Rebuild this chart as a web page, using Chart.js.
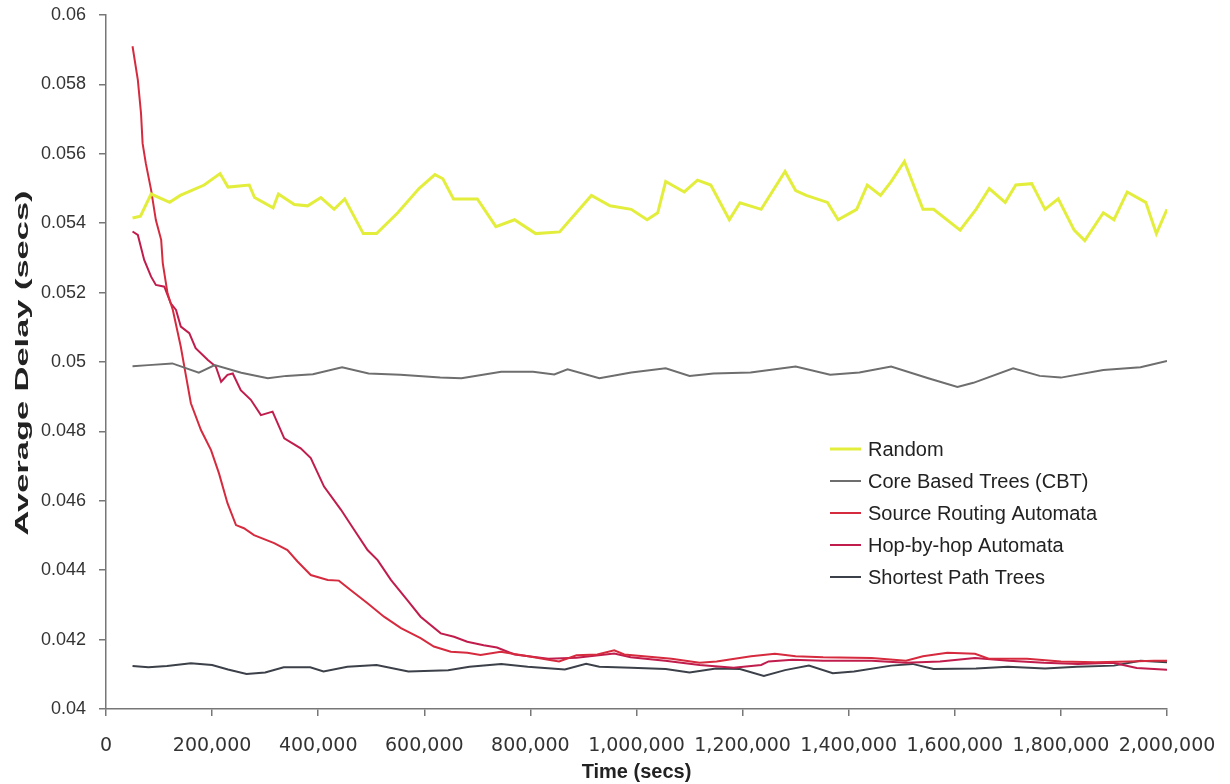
<!DOCTYPE html>
<html>
<head>
<meta charset="utf-8">
<script src="https://cdn.jsdelivr.net/npm/chart.js@4.4.1/dist/chart.umd.min.js"></script>
<style>
  html, body { margin: 0; padding: 0; background: #ffffff; }
  #wrap { width: 1230px; height: 784px; position: relative; }
</style>
</head>
<body>
<div id="wrap"><canvas id="chart" width="1230" height="784"></canvas></div>
<script>
// ---------------- DATA ----------------
const xTitle = 'Time (secs)';
const yTitle = 'Average Delay (secs)';
const xTickLabels = ['0','200,000','400,000','600,000','800,000','1,000,000','1,200,000','1,400,000','1,600,000','1,800,000','2,000,000'];
const yTickLabels = ['0.04','0.042','0.044','0.046','0.048','0.05','0.052','0.054','0.056','0.058','0.06'];

const seriesNames = ['Random', 'Core Based Trees (CBT)', 'Source Routing Automata', 'Hop-by-hop Automata', 'Shortest Path Trees'];

const randomTimes = [50000,65000,85000,120000,140000,185000,215000,230000,270000,280000,315000,325000,355000,380000,405000,430000,450000,485000,510000,550000,590000,620000,635000,655000,700000,735000,770000,810000,855000,875000,915000,950000,990000,1020000,1040000,1055000,1090000,1115000,1140000,1175000,1195000,1235000,1280000,1300000,1320000,1360000,1380000,1415000,1435000,1460000,1480000,1505000,1540000,1560000,1610000,1640000,1665000,1695000,1715000,1745000,1770000,1795000,1825000,1845000,1880000,1900000,1925000,1960000,1980000,2000000];
const randomValues = [0.05415,0.0542,0.05484,0.0546,0.0548,0.0551,0.05543,0.05504,0.0551,0.05474,0.05444,0.05484,0.05454,0.0545,0.05474,0.0544,0.0547,0.0537,0.0537,0.0543,0.0550,0.0554,0.05528,0.0547,0.0547,0.0539,0.0541,0.0537,0.05375,0.0541,0.0548,0.0545,0.0544,0.0541,0.0543,0.0552,0.0549,0.05524,0.0551,0.0541,0.05459,0.0544,0.05549,0.05494,0.0548,0.0546,0.0541,0.0544,0.0551,0.0548,0.0552,0.05578,0.0544,0.0544,0.0538,0.0544,0.0550,0.0546,0.0551,0.05514,0.0544,0.0547,0.0538,0.0535,0.0543,0.0541,0.0549,0.0546,0.0537,0.0544];

const cbtTimes = [50000,80000,125000,175000,205000,255000,305000,340000,390000,445000,495000,555000,630000,670000,745000,805000,845000,870000,930000,990000,1055000,1100000,1145000,1215000,1300000,1365000,1420000,1480000,1550000,1605000,1635000,1710000,1760000,1800000,1880000,1950000,2000000];
const cbtValues = [0.04988,0.04991,0.04996,0.04969,0.04991,0.04969,0.04953,0.0496,0.04965,0.04985,0.04967,0.04963,0.04955,0.04953,0.04972,0.04972,0.04964,0.04979,0.04953,0.0497,0.04982,0.0496,0.04967,0.0497,0.04987,0.04963,0.0497,0.04987,0.04953,0.04928,0.0494,0.04982,0.0496,0.04955,0.04977,0.04985,0.05003];

const sourceTimes = [50000,60000,66000,69000,75000,85000,94000,104000,107000,116000,126000,141000,151000,160000,179000,198000,213000,229000,245000,260000,279000,317000,342000,361000,386000,418000,439000,461000,493000,524000,556000,593000,618000,650000,681000,706000,744000,796000,834000,854000,887000,926000,958000,977000,1066000,1119000,1151000,1216000,1261000,1300000,1352000,1443000,1508000,1540000,1586000,1638000,1664000,1736000,1800000,1865000,1930000,1976000,2000000];
const sourceValues = [0.0591,0.05813,0.05717,0.0563,0.05573,0.05496,0.05409,0.05352,0.05285,0.05198,0.0515,0.05044,0.04958,0.04881,0.04804,0.04746,0.04679,0.04593,0.0453,0.04521,0.04501,0.04478,0.04458,0.04425,0.04386,0.04372,0.0437,0.04343,0.04305,0.04266,0.04233,0.04204,0.0418,0.04165,0.04162,0.04156,0.04165,0.04152,0.04142,0.04137,0.04155,0.04157,0.04169,0.04157,0.04145,0.04133,0.04137,0.04152,0.04159,0.04152,0.04149,0.04147,0.04139,0.04152,0.04162,0.04159,0.04145,0.04145,0.04137,0.04135,0.04137,0.04139,0.04139];

const hopTimes = [50000,60000,72000,85000,94000,104000,110000,122000,132000,141000,157000,169000,192000,207000,217000,229000,239000,254000,273000,292000,314000,336000,367000,386000,411000,443000,468000,493000,512000,537000,568000,593000,631000,656000,681000,712000,737000,770000,834000,887000,958000,989000,1054000,1119000,1183000,1235000,1249000,1294000,1352000,1443000,1508000,1572000,1638000,1702000,1768000,1832000,1898000,1943000,2000000];
const hopValues = [0.05376,0.05366,0.05294,0.05246,0.05222,0.05219,0.05217,0.05169,0.0515,0.05102,0.05083,0.0504,0.05006,0.04987,0.04943,0.04963,0.04967,0.04919,0.04891,0.04847,0.04857,0.0478,0.04751,0.04723,0.04641,0.04574,0.04516,0.04458,0.04429,0.04372,0.04314,0.04266,0.04218,0.04208,0.04194,0.04184,0.04177,0.04157,0.04145,0.04148,0.0416,0.04149,0.04139,0.04127,0.04119,0.04127,0.04137,0.04142,0.04139,0.04139,0.04133,0.04137,0.04147,0.04139,0.04133,0.0413,0.04133,0.04118,0.04113];

const sptTimes = [50000,80000,115000,160000,200000,230000,265000,300000,335000,385000,410000,455000,510000,570000,645000,685000,745000,795000,865000,905000,930000,990000,1055000,1100000,1150000,1195000,1240000,1280000,1325000,1370000,1410000,1480000,1520000,1560000,1640000,1700000,1770000,1830000,1900000,1950000,2000000];
const sptValues = [0.04124,0.0412,0.04124,0.04132,0.04127,0.04114,0.04101,0.04105,0.0412,0.0412,0.04108,0.04122,0.04127,0.04108,0.04112,0.04122,0.0413,0.04122,0.04114,0.0413,0.04122,0.04119,0.04115,0.04105,0.04117,0.04115,0.04095,0.04112,0.04125,0.04103,0.04108,0.04125,0.0413,0.04115,0.04117,0.04122,0.04117,0.04122,0.04125,0.04139,0.04135];

// ---------------- STYLE ----------------
const seriesColors = ['#e3ee3c', '#6e6e6e', '#d62a3e', '#c01c4c', '#3c4049'];
const seriesWidths = [3, 2, 2, 2, 2];

function pairs(ts, vs) { return ts.map((t, i) => ({ x: t, y: vs[i] })); }

const seriesData = [
  pairs(randomTimes, randomValues),
  pairs(cbtTimes, cbtValues),
  pairs(sourceTimes, sourceValues),
  pairs(hopTimes, hopValues),
  pairs(sptTimes, sptValues)
];

const PLOT = { left: 106, right: 1167, top: 15, bottom: 709 };
const W = 1230, H = 784;

function zeroPad(scale) {
  scale.paddingTop = 0; scale.paddingBottom = 0;
  scale.paddingLeft = 0; scale.paddingRight = 0;
}

const insideLegend = {
  id: 'insideLegend',
  afterDraw(chart) {
    const ctx = chart.ctx;
    ctx.save();
    ctx.font = '20px "Liberation Sans", Arial, sans-serif';
    ctx.textBaseline = 'middle';
    ctx.textAlign = 'left';
    chart.data.datasets.forEach((ds, i) => {
      const y = 449 + i * 32;
      ctx.strokeStyle = ds.borderColor;
      ctx.lineWidth = ds.borderWidth;
      ctx.beginPath();
      ctx.moveTo(830, y);
      ctx.lineTo(861, y);
      ctx.stroke();
      ctx.fillStyle = '#222';
      ctx.fillText(ds.label, 868, y + 1);
    });
    ctx.restore();
  }
};

const yTitlePlugin = {
  id: 'yTitlePlugin',
  afterDraw(chart) {
    const ctx = chart.ctx;
    ctx.save();
    ctx.font = 'bold 18px "Liberation Sans", Arial, sans-serif';
    const w = ctx.measureText(yTitle).width;
    ctx.translate(23, 363);
    ctx.rotate(-Math.PI / 2);
    ctx.scale(345 / w, 1);
    ctx.fillStyle = '#222';
    ctx.textAlign = 'center';
    ctx.textBaseline = 'middle';
    ctx.fillText(yTitle, 0, 0);
    ctx.restore();
  }
};

new Chart(document.getElementById('chart'), {
  type: 'line',
  data: {
    datasets: seriesNames.map((name, i) => ({
      label: name,
      data: seriesData[i],
      borderColor: seriesColors[i],
      backgroundColor: seriesColors[i],
      borderWidth: seriesWidths[i],
      pointRadius: 0,
      tension: 0,
      fill: false
    }))
  },
  options: {
    responsive: false,
    animation: false,
    devicePixelRatio: 1,
    layout: { padding: { top: PLOT.top, right: W - PLOT.right, bottom: 0, left: 0 } },
    plugins: { legend: { display: false }, tooltip: { enabled: false } },
    scales: {
      x: {
        type: 'linear',
        min: 0, max: 2000000,
        afterFit(scale) { scale.height = H - PLOT.bottom; zeroPad(scale); },
        afterBuildTicks(scale) { scale.ticks = xTickLabels.map((l, i) => ({ value: i * 200000 })); },
        ticks: {
          autoSkip: false, maxRotation: 0,
          padding: 19,
          color: '#333',
          font: { family: '"DejaVu Sans", sans-serif', size: 19 },
          callback: (v, i) => xTickLabels[i]
        },
        grid: { drawOnChartArea: false, drawTicks: true, tickLength: 7, color: '#777', lineWidth: 1.5 },
        border: { display: true, color: '#777', width: 1.5 },
        title: {
          display: true, text: xTitle, color: '#222',
          font: { family: '"Liberation Sans", Arial, sans-serif', size: 20, weight: 'bold' },
          padding: { top: 0, bottom: 0 }
        }
      },
      y: {
        type: 'linear',
        min: 0.04, max: 0.06,
        afterFit(scale) { scale.width = PLOT.left; zeroPad(scale); },
        afterBuildTicks(scale) { scale.ticks = yTickLabels.map(l => ({ value: parseFloat(l) })); },
        ticks: {
          autoSkip: false,
          padding: 13,
          color: '#333',
          font: { family: '"Liberation Sans", Arial, sans-serif', size: 18 },
          callback: (v, i) => yTickLabels[i]
        },
        grid: { drawOnChartArea: false, drawTicks: true, tickLength: 7, color: '#777', lineWidth: 1.5 },
        border: { display: true, color: '#777', width: 1.5 },
        title: { display: false }
      }
    }
  },
  plugins: [insideLegend, yTitlePlugin]
});
</script>
</body>
</html>
